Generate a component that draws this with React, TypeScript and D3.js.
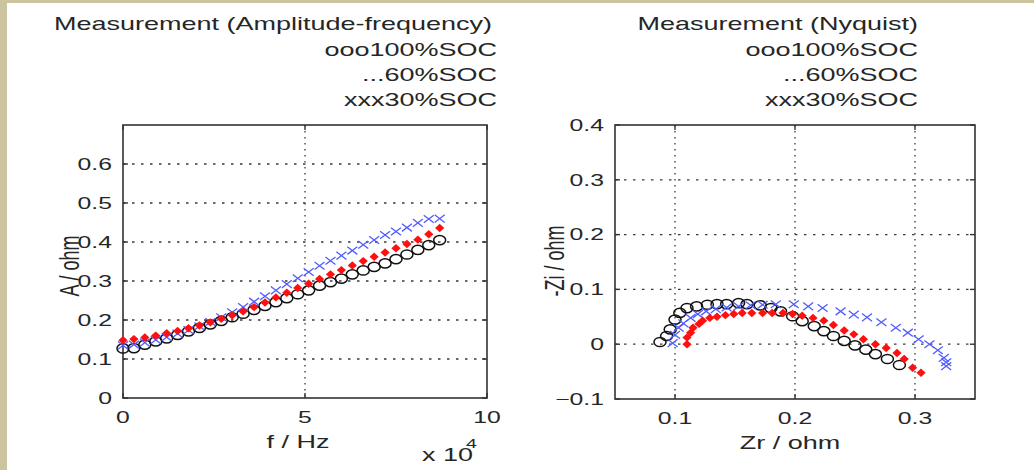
import React from "react";
import * as d3 from "d3";

const W = 1034;
const H = 470;
const SX = 1.5; // the picture is stretched horizontally
const FONT = "'Liberation Sans', Arial, sans-serif";

// amplitude-frequency, f in units of 1e4 Hz
const freq = [0, 0.3, 0.6, 0.9, 1.2, 1.5, 1.8, 2.1, 2.4, 2.7, 3.0, 3.3, 3.6, 3.9, 4.2, 4.5, 4.8, 5.1, 5.4, 5.7, 6.0, 6.3, 6.6, 6.9, 7.2, 7.5, 7.8, 8.1, 8.4, 8.7];
const amp100 = [0.127, 0.128, 0.137, 0.145, 0.153, 0.162, 0.171, 0.18, 0.189, 0.198, 0.207, 0.216, 0.226, 0.236, 0.246, 0.256, 0.266, 0.276, 0.288, 0.297, 0.306, 0.317, 0.327, 0.336, 0.345, 0.356, 0.368, 0.38, 0.392, 0.405];
const amp60 = [0.148, 0.151, 0.155, 0.16, 0.166, 0.172, 0.179, 0.186, 0.194, 0.203, 0.212, 0.222, 0.233, 0.245, 0.258, 0.27, 0.282, 0.293, 0.305, 0.317, 0.328, 0.34, 0.351, 0.362, 0.373, 0.384, 0.395, 0.406, 0.42, 0.436];
const amp30 = [0.135, 0.137, 0.142, 0.149, 0.156, 0.165, 0.174, 0.184, 0.195, 0.207, 0.22, 0.233, 0.247, 0.261, 0.276, 0.292, 0.307, 0.323, 0.339, 0.352, 0.365, 0.378, 0.393, 0.405, 0.418, 0.427, 0.437, 0.449, 0.459, 0.46];

// Nyquist
const zr100 = [0.0875, 0.093, 0.096, 0.1, 0.104, 0.11, 0.118, 0.127, 0.135, 0.143, 0.153, 0.16, 0.171, 0.18, 0.188, 0.198, 0.206, 0.216, 0.224, 0.232, 0.241, 0.25, 0.259, 0.267, 0.277, 0.287];
const zi100 = [0.004, 0.015, 0.027, 0.045, 0.057, 0.066, 0.069, 0.072, 0.073, 0.073, 0.075, 0.073, 0.071, 0.066, 0.06, 0.051, 0.042, 0.033, 0.024, 0.015, 0.006, -0.002, -0.01, -0.018, -0.027, -0.038];
const zr60 = [0.11, 0.11, 0.113, 0.115, 0.12, 0.123, 0.129, 0.135, 0.142, 0.149, 0.156, 0.164, 0.173, 0.181, 0.19, 0.198, 0.206, 0.215, 0.224, 0.232, 0.241, 0.249, 0.257, 0.267, 0.276, 0.285, 0.291, 0.298, 0.305];
const zi60 = [0.0, 0.012, 0.021, 0.03, 0.037, 0.043, 0.048, 0.05, 0.053, 0.055, 0.057, 0.057, 0.057, 0.057, 0.057, 0.055, 0.052, 0.048, 0.043, 0.035, 0.025, 0.018, 0.009, 0.0, -0.007, -0.016, -0.027, -0.043, -0.052];
const zr30 = [0.098, 0.1, 0.103, 0.107, 0.113, 0.119, 0.126, 0.134, 0.143, 0.153, 0.163, 0.173, 0.184, 0.199, 0.211, 0.223, 0.238, 0.249, 0.26, 0.272, 0.284, 0.294, 0.303, 0.312, 0.319, 0.324, 0.326, 0.326];
const zi30 = [0.002, 0.017, 0.03, 0.038, 0.048, 0.055, 0.06, 0.064, 0.067, 0.069, 0.071, 0.072, 0.073, 0.073, 0.069, 0.066, 0.06, 0.054, 0.049, 0.04, 0.03, 0.021, 0.009, 0.0, -0.011, -0.025, -0.033, -0.04];

const legendLines = ["ooo100%SOC", "...60%SOC", "xxx30%SOC"];
const ampXTicks = [0, 5, 10];
const ampYTicks = [0, 0.1, 0.2, 0.3, 0.4, 0.5, 0.6];
const nyqXTicks = [0.1, 0.2, 0.3];
const nyqYTicks = [-0.1, 0, 0.1, 0.2, 0.3, 0.4];

const T = ({ x, y, anchor = "middle", size = 18, rotate = 0, children }: any) => (
  <text
    transform={`translate(${x},${y}) scale(${SX},1) rotate(${rotate})`}
    textAnchor={anchor}
    dominantBaseline="central"
    fontSize={size}
    fontFamily={FONT}
    fill="#262626"
  >
    {children}
  </text>
);

const Circle = ({ x, y }: any) => (
  <ellipse cx={x} cy={y} rx={6} ry={4.6} fill="none" stroke="#111" strokeWidth={1.5} />
);
const Diamond = ({ x, y }: any) => (
  <polygon points={`${x - 4.6},${y} ${x},${y - 4.2} ${x + 4.6},${y} ${x},${y + 4.2}`} fill="#ff1010" />
);
const Cross = ({ x, y }: any) => (
  <path d={`M${x - 5},${y - 3.8}L${x + 5},${y + 3.8}M${x - 5},${y + 3.8}L${x + 5},${y - 3.8}`} stroke="#4f5cff" strokeWidth={1.3} />
);

const Frame = ({ xs, ys, xTicks, yTicks, fmtY }: any) => {
  const [x0, x1] = xs.range();
  const [y1, y0] = ys.range();
  return (
    <g>
      {xTicks.filter((t: number) => xs(t) > x0 + 1 && xs(t) < x1 - 1).map((t: number) => (
        <line key={"gx" + t} x1={xs(t)} x2={xs(t)} y1={y0} y2={y1} stroke="#3a3a3a" strokeWidth={1.3} strokeDasharray="1.5 4.5" />
      ))}
      {yTicks.filter((t: number) => ys(t) > y0 + 1 && ys(t) < y1 - 1).map((t: number) => (
        <line key={"gy" + t} x1={x0} x2={x1} y1={ys(t)} y2={ys(t)} stroke="#3a3a3a" strokeWidth={1.3} strokeDasharray="2.5 6.5" />
      ))}
      <rect x={x0} y={y0} width={x1 - x0} height={y1 - y0} fill="none" stroke="#333" strokeWidth={1.6} />
      {xTicks.map((t: number) => (
        <g key={"tx" + t}>
          <line x1={xs(t)} x2={xs(t)} y1={y1} y2={y1 - 5} stroke="#333" strokeWidth={1.4} />
          <line x1={xs(t)} x2={xs(t)} y1={y0} y2={y0 + 5} stroke="#333" strokeWidth={1.4} />
          <T x={xs(t)} y={y1 + 19} size={16.5}>{String(t)}</T>
        </g>
      ))}
      {yTicks.map((t: number) => (
        <g key={"ty" + t}>
          <line x1={x0} x2={x0 + 5} y1={ys(t)} y2={ys(t)} stroke="#333" strokeWidth={1.4} />
          <line x1={x1} x2={x1 - 5} y1={ys(t)} y2={ys(t)} stroke="#333" strokeWidth={1.4} />
          <T x={x0 - 11} y={ys(t)} anchor="end" size={16.5}>{fmtY(t)}</T>
        </g>
      ))}
    </g>
  );
};

const fmt = (t: number) => (t === 0 ? "0" : d3.format(".1f")(t));

export default function App() {
  const ax = d3.scaleLinear().domain([0, 10]).range([123, 487]);
  const ay = d3.scaleLinear().domain([0, 0.7]).range([398, 125]);
  const nx = d3.scaleLinear().domain([0.05, 0.35]).range([615, 975]);
  const ny = d3.scaleLinear().domain([-0.1, 0.4]).range([399, 125]);

  return (
    <div style={{ position: "absolute", left: 0, top: 0 }}>
      <svg width={W} height={H} style={{ display: "block" }}>
        <rect width={W} height={H} fill="#fff" />
        <rect x={0} y={0} width={W} height={3} fill="#cdc49f" />
        <rect x={0} y={0} width={7} height={H} fill="#cdc49f" />

        {/* left: amplitude-frequency */}
        <T x={492} y={24} anchor="end">Measurement (Amplitude-frequency)</T>
        {legendLines.map((s, i) => (
          <T key={s} x={497} y={50 + i * 25} anchor="end">{s}</T>
        ))}
        <Frame xs={ax} ys={ay} xTicks={ampXTicks} yTicks={ampYTicks} fmtY={fmt} />
        {freq.map((f, i) => <Circle key={"c" + i} x={ax(f)} y={ay(amp100[i])} />)}
        {freq.map((f, i) => <Cross key={"x" + i} x={ax(f)} y={ay(amp30[i])} />)}
        {freq.map((f, i) => <Diamond key={"d" + i} x={ax(f)} y={ay(amp60[i])} />)}
        <T x={298} y={442}>f / Hz</T>
        <T x={70} y={266} rotate={-90}>A / ohm</T>
        <T x={422} y={455} anchor="start">x 10</T>
        <T x={466} y={444} anchor="start" size={13}>4</T>

        {/* right: Nyquist */}
        <T x={918} y={24} anchor="end">Measurement (Nyquist)</T>
        {legendLines.map((s, i) => (
          <T key={"n" + s} x={918} y={50 + i * 25} anchor="end">{s}</T>
        ))}
        <Frame xs={nx} ys={ny} xTicks={nyqXTicks} yTicks={nyqYTicks} fmtY={fmt} />
        {zr100.map((v, i) => <Circle key={"nc" + i} x={nx(v)} y={ny(zi100[i])} />)}
        {zr30.map((v, i) => <Cross key={"nx" + i} x={nx(v)} y={ny(zi30[i])} />)}
        {zr60.map((v, i) => <Diamond key={"nd" + i} x={nx(v)} y={ny(zi60[i])} />)}
        <T x={790} y={443}>Zr / ohm</T>
        <T x={555} y={261} rotate={-90}>-Zi / ohm</T>
      </svg>
    </div>
  );
}
